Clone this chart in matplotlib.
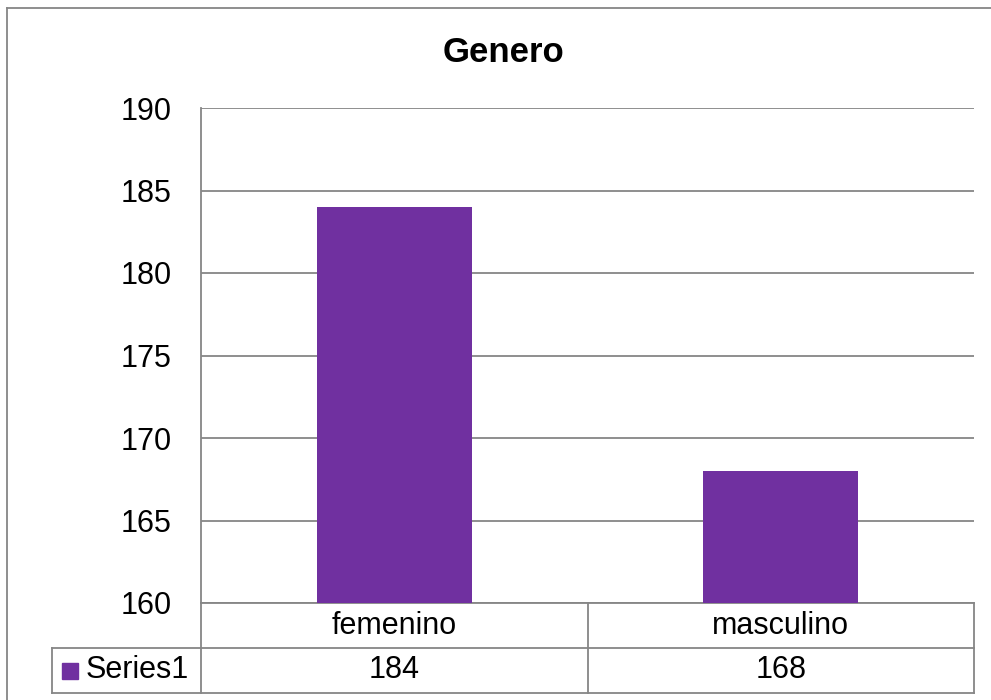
import matplotlib
matplotlib.use("Agg")
import matplotlib.pyplot as plt
from matplotlib.lines import Line2D
from matplotlib.patches import Rectangle

plt.rcParams["font.family"] = ["Liberation Sans", "DejaVu Sans"]

categories = ["femenino", "masculino"]
values = [184, 168]
series_name = "Series1"
title = "Genero"

bar_color = "#7030A0"
grid_color = "#868686"
fs = 22

fig = plt.figure(figsize=(9.91, 7.0), dpi=100)
ax = fig.add_axes([201 / 991, 1 - 603 / 700, 773 / 991, 495 / 700])

x = range(len(categories))
ax.bar(x, values, width=0.4, color=bar_color, zorder=3)
ax.set_xlim(-0.5, len(categories) - 0.5)
ax.set_ylim(160, 190)
ax.set_yticks(range(160, 191, 5))
ax.tick_params(axis="y", length=0, labelsize=fs, pad=21)
ax.set_xticks([])
ax.grid(axis="y", color=grid_color, linewidth=1.3, zorder=0)
for side in ["top", "right"]:
    ax.spines[side].set_visible(False)
for side in ["left", "bottom"]:
    ax.spines[side].set_color(grid_color)
    ax.spines[side].set_linewidth(1.3)

fig.text(504 / 991, 1 - 52 / 700, title, ha="center", va="center",
         fontsize=25, fontweight="bold")

# data table below the plot
tr = ax.transAxes
row = 45 / 495
left_cell = -149 / 773
lk = dict(color=grid_color, linewidth=1.3, clip_on=False, transform=tr)
ax.add_line(Line2D([0, 0], [0, -2 * row], **lk))
ax.add_line(Line2D([left_cell, 1], [-row, -row], **lk))
ax.add_line(Line2D([left_cell, 1], [-2 * row, -2 * row], **lk))
ax.add_line(Line2D([left_cell, left_cell], [-row, -2 * row], **lk))
ax.add_line(Line2D([1, 1], [0, -2 * row], **lk))
n = len(categories)
for i in range(1, n):
    ax.add_line(Line2D([i / n, i / n], [0, -2 * row], **lk))
for i, (c, v) in enumerate(zip(categories, values)):
    cx = (i + 0.5) / n
    ax.text(cx, -row / 2, c, transform=tr, ha="center", va="center", fontsize=fs)
    ax.text(cx, -1.5 * row, str(v), transform=tr, ha="center", va="center", fontsize=fs)
ax.add_patch(Rectangle((-139 / 773, -1.5 * row - 8 / 495), 16 / 773, 16 / 495,
                       transform=tr, color=bar_color, clip_on=False))
ax.text(-115 / 773, -1.5 * row, series_name, transform=tr, ha="left", va="center", fontsize=fs)

# outer chart border (cut off at right and bottom)
bx, by = 7 / 991, 1 - 8 / 700
fig.add_artist(Line2D([bx, bx], [0, by], color=grid_color, linewidth=1.3))
fig.add_artist(Line2D([bx, 1], [by, by], color=grid_color, linewidth=1.3))

fig.savefig("out.png", dpi=100)
